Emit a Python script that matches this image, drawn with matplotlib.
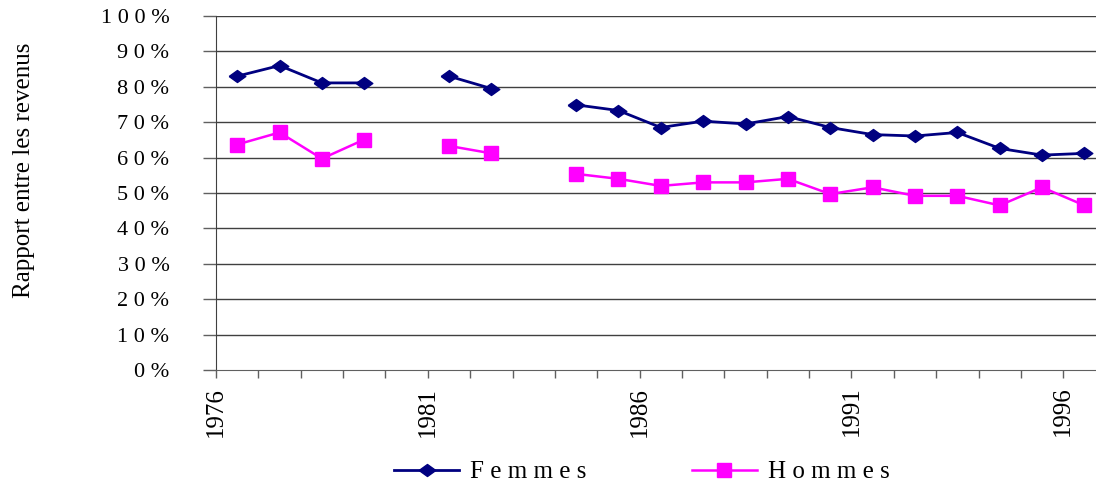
#_____________________________________________________ import libraries ______________________________________________________
import numpy as np
import matplotlib
matplotlib.use("Agg")
import matplotlib.pyplot as plt
from matplotlib.lines import Line2D

#______________________________________________________ Data ______________________________________________________
years = list(range(1976, 1997))
year_labels = ['1976', '1981', '1986', '1991', '1996']

# nan = no value for that year (1980, 1983)
femmes = [83.0, 86.0, 81.1, 81.1, np.nan, 83.0, 79.5, np.nan, 74.9, 73.3, 68.5,
          70.3, 69.5, 71.6, 68.5, 66.5, 66.1, 67.1, 62.6, 60.7, 61.2]
hommes = [63.7, 67.1, 59.7, 65.1, np.nan, 63.3, 61.2, np.nan, 55.4, 54.0, 52.0,
          53.0, 53.0, 54.0, 49.7, 51.6, 49.2, 49.2, 46.5, 51.6, 46.5]

y_ticks = list(range(0, 101, 10))
y_tick_labels = [' '.join(list(str(v))) + ' %' for v in y_ticks]

#______________________________________________________ Figure ______________________________________________________
plt.rcParams['font.family'] = ['Liberation Serif', 'DejaVu Serif']

W, H = 1096, 484
fig = plt.figure(figsize=(W / 100, H / 100), dpi=100)
ax = fig.add_axes([216 / W, 1 - 370 / H, 889.6 / W, 354 / H])

# flat diamond, wider than tall
diamond = [(-1, 0), (0, 0.72), (1, 0), (0, -0.72), (-1, 0)]

x = np.arange(len(years)) + 0.5  # points in the middle of each category
ax.plot(x, femmes, color='#000080', lw=2.0, marker=diamond, markersize=12,
        markeredgecolor='#000080', markerfacecolor='#000080')
ax.plot(x, hommes, color='#FF00FF', lw=1.8, marker='s', markersize=10.5,
        markeredgecolor='#FF00FF', markerfacecolor='#FF00FF')

ax.set_xlim(0, len(years))
ax.set_ylim(0, 100)

# gridlines
for v in y_ticks[1:]:
    ax.axhline(v, color='#404040', lw=1.0, zorder=0)

ax.set_yticks(y_ticks)
ax.set_yticklabels(y_tick_labels, fontsize=16)
ax.tick_params(axis='y', direction='out', length=9.5, width=1, color='#606060', pad=24)

ax.set_xticks([0, 5, 10, 15, 20])
ax.set_xticklabels(year_labels, rotation=90, fontsize=18)
ax.set_xticks(np.arange(0, len(years) + 1), minor=True)
ax.tick_params(axis='x', which='both', direction='out', length=6, width=1, color='#606060', pad=6)

for s in ['top', 'right']:
    ax.spines[s].set_visible(False)
ax.spines['left'].set_color('#404040')
ax.spines['bottom'].set_color('#606060')

fig.text(24 / W, 1 - 170 / H, 'Rapport entre les revenus', rotation=90,
         ha='center', va='center', fontsize=18)

#______________________________________________________ Legend ______________________________________________________
handles = [Line2D([], [], color='#000080', lw=2.0, marker=diamond, markersize=12),
           Line2D([], [], color='#FF00FF', lw=1.8, marker='s', markersize=10.5)]
fig.legend(handles, ['F e m m e s', 'H o m m e s'], loc='center',
           bbox_to_anchor=(642 / W, 1 - 472 / H), ncol=2, frameon=False,
           fontsize=18, handlelength=2.6, handletextpad=0.45, columnspacing=4.2,
           borderaxespad=0, borderpad=0)

fig.savefig('out.png', dpi=100)
